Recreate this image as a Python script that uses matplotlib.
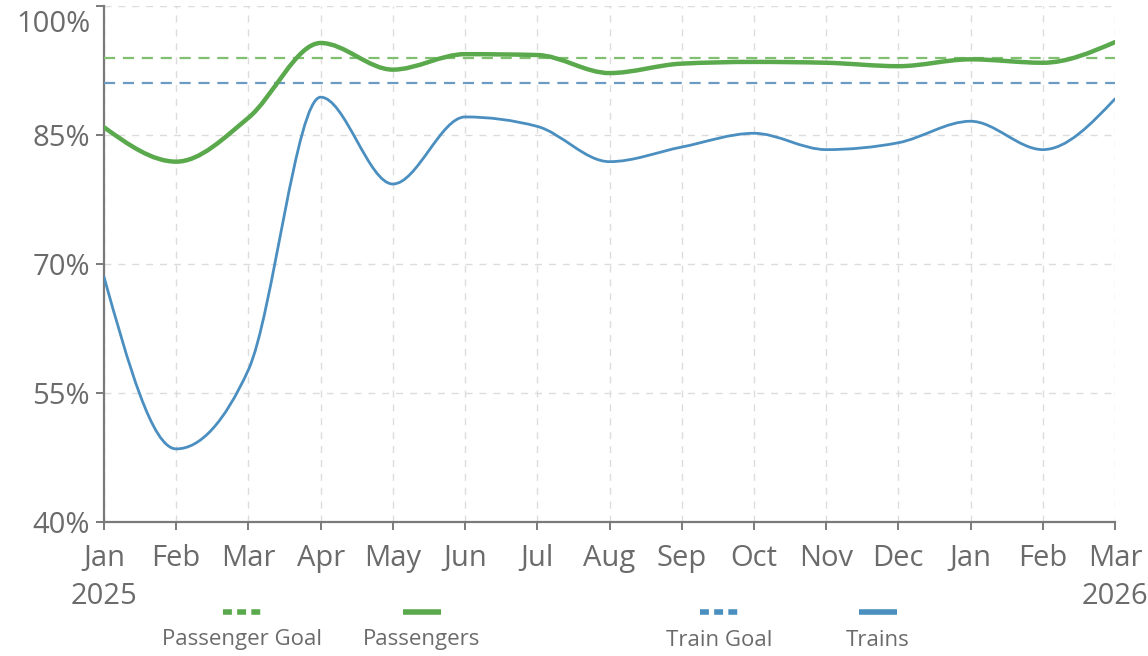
import numpy as np
import matplotlib

matplotlib.use("Agg")

import matplotlib.pyplot as plt  # noqa: E402
import matplotlib.transforms as mtransforms  # noqa: E402
from matplotlib.lines import Line2D  # noqa: E402
from matplotlib.patches import PathPatch  # noqa: E402
from matplotlib.path import Path  # noqa: E402

months = ["Jan\n2025", "Feb", "Mar", "Apr", "May", "Jun", "Jul", "Aug",
          "Sep", "Oct", "Nov", "Dec", "Jan", "Feb", "Mar\n2026"]
passengers = [85.9, 81.9, 87.0, 95.7, 92.6, 94.4, 94.3, 92.2,
              93.3, 93.5, 93.4, 93.0, 93.8, 93.4, 95.8]
trains = [68.5, 48.5, 57.7, 89.4, 79.3, 87.1, 86.0, 81.9,
          83.6, 85.2, 83.3, 84.1, 86.6, 83.3, 89.2]
passenger_goal = 94.0
train_goal = 91.0
y_ticks = [40, 55, 70, 85, 100]

GREEN = "#5aa94c"
BLUE = "#4b8fc0"
GREEN_GOAL = "#7fbf6f"
BLUE_GOAL = "#6b9bc3"
TEXT = "#6b6b6b"

plt.rcParams["font.family"] = ["Open Sans", "DejaVu Sans"]


def _monotone_path(xs, ys) -> Path:
    # monotone cubic (d3 curveMonotoneX style) as bezier segments
    xs = np.asarray(xs, dtype=float)
    ys = np.asarray(ys, dtype=float)
    n = len(xs)
    h = np.diff(xs)
    s = np.diff(ys) / h
    t = np.zeros(n)
    for i in range(1, n - 1):
        p = (s[i - 1] * h[i] + s[i] * h[i - 1]) / (h[i - 1] + h[i])
        t[i] = (np.sign(s[i - 1]) + np.sign(s[i])) * min(
            abs(s[i - 1]), abs(s[i]), 0.5 * abs(p)
        )
    t[0] = (3 * s[0] - t[1]) / 2
    t[-1] = (3 * s[-1] - t[-2]) / 2
    verts = [(xs[0], ys[0])]
    codes = [Path.MOVETO]
    for i in range(n - 1):
        d = h[i] / 3
        verts += [
            (xs[i] + d, ys[i] + t[i] * d),
            (xs[i + 1] - d, ys[i + 1] - t[i + 1] * d),
            (xs[i + 1], ys[i + 1]),
        ]
        codes += [Path.CURVE4] * 3
    return Path(verts, codes)


fig = plt.figure(figsize=(11.48, 6.56), dpi=100)
ax = fig.add_axes([104 / 1148, 1 - 522 / 656, (1115 - 104) / 1148, (522 - 6) / 656])

x = np.arange(len(months))
ax.axhline(passenger_goal, color=GREEN_GOAL, linewidth=1.6, dashes=(5, 3.5), zorder=3)
ax.axhline(train_goal, color=BLUE_GOAL, linewidth=1.6, dashes=(5, 3.5), zorder=3)
ax.add_patch(PathPatch(_monotone_path(x, trains), fill=False, edgecolor=BLUE,
                       linewidth=2.0, zorder=4, capstyle="round"))
ax.add_patch(PathPatch(_monotone_path(x, passengers), fill=False, edgecolor=GREEN,
                       linewidth=3.2, zorder=5, capstyle="round"))

ax.set_xlim(0, len(months) - 1)
ax.set_ylim(40, 100)
ax.set_xticks(x)
ax.set_xticklabels(months)
ax.set_yticks(y_ticks)
ax.set_yticklabels([f"{v}%" for v in y_ticks])
for lab in ax.get_xticklabels():
    lab.set_linespacing(1.4)
    lab.set_verticalalignment("top")

ax.grid(True, color="#dcdcdc", linewidth=1.0, linestyle=(0, (5, 5)))
ax.set_axisbelow(True)
for side in ("top", "right"):
    ax.spines[side].set_visible(False)
for side in ("left", "bottom"):
    ax.spines[side].set_color("#7a7a7a")
    ax.spines[side].set_linewidth(1.6)
ax.tick_params(axis="both", colors="#7a7a7a", length=6, width=1.4,
               labelcolor=TEXT, labelsize=21)
ax.tick_params(axis="x", pad=10)
ax.tick_params(axis="y", pad=4)

# the top label sits lower so it is not clipped
top_label = ax.get_yticklabels()[-1]
top_label.set_verticalalignment("top")
top_label.set_transform(top_label.get_transform()
                        + mtransforms.ScaledTranslation(0, -3 / 72, fig.dpi_scale_trans))

# legend: handle above label
legend_items = [
    ("Passenger Goal", GREEN, True, 242),
    ("Passengers", GREEN, False, 422),
    ("Train Goal", BLUE, True, 719),
    ("Trains", BLUE, False, 878),
]
for label, color, dotted, cx in legend_items:
    xx = [(cx - 19) / 1148, (cx + 19) / 1148]
    yy = [1 - 612 / 656] * 2
    line = Line2D(xx, yy, transform=fig.transFigure, color=color, linewidth=4,
                  solid_capstyle="butt", dash_capstyle="butt")
    if dotted:
        line.set_dashes((1.6, 0.95))
    fig.add_artist(line)
    fig.text(cx / 1148, 1 - 640 / 656, label, ha="center", va="center",
             fontsize=16, color=TEXT)

fig.savefig("out.png", dpi=100)
plt.close(fig)
